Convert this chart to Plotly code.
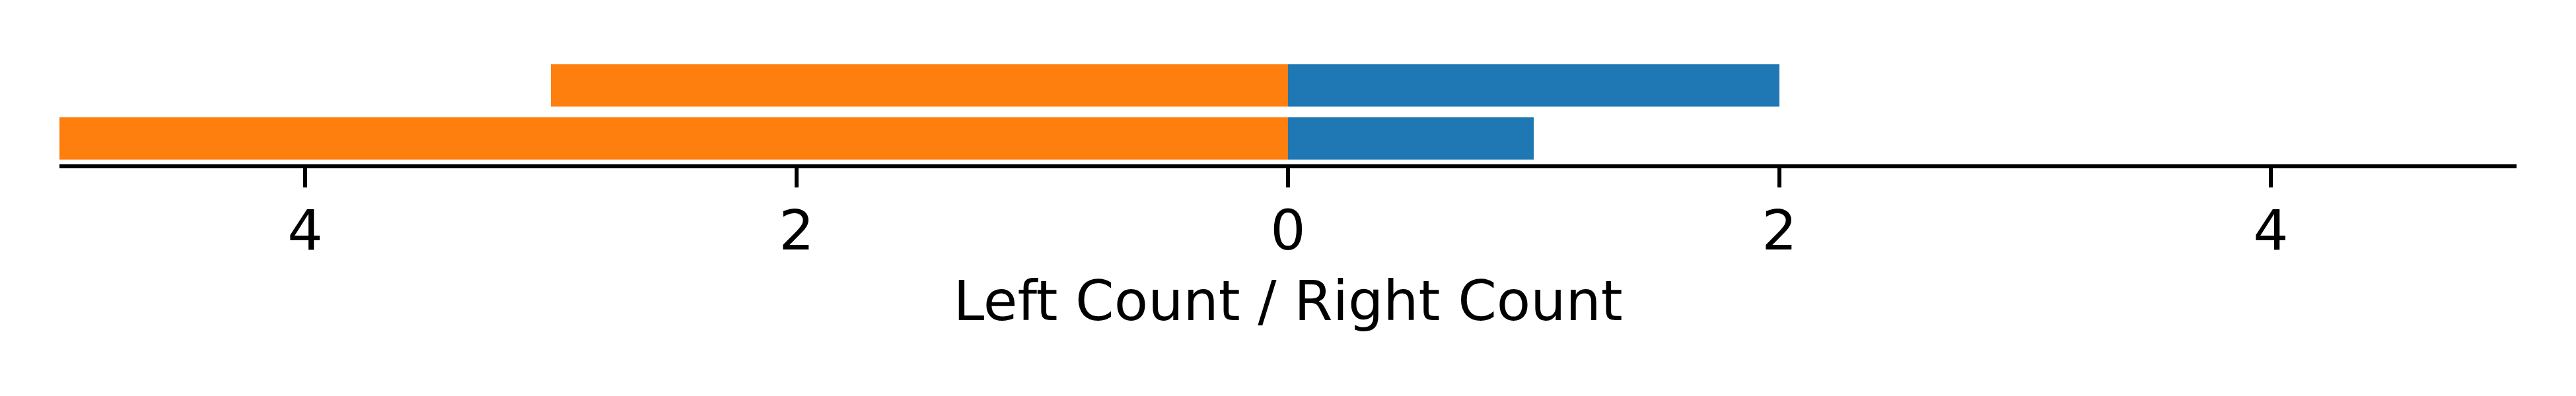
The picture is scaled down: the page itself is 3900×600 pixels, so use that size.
import plotly.graph_objects as go

categories = [0, 1]
left_counts = [5, 3]
right_counts = [1, 2]
tick_values = [-4, -2, 0, 2, 4]
tick_labels = ["4", "2", "0", "2", "4"]
x_title = "Left Count / Right Count"

FONT = "DejaVu Sans"

fig = go.Figure()
fig.add_trace(go.Bar(
    y=categories, x=[-v for v in left_counts], orientation="h",
    width=0.8, marker=dict(color="#ff7f0e", line=dict(width=0)),
    name="Left", showlegend=False,
))
fig.add_trace(go.Bar(
    y=categories, x=right_counts, orientation="h",
    width=0.8, marker=dict(color="#1f77b4", line=dict(width=0)),
    name="Right", showlegend=False,
))

fig.update_layout(
    template="none",
    width=3900, height=600,
    barmode="relative",
    plot_bgcolor="white", paper_bgcolor="white",
    margin=dict(l=90, r=90, t=90, b=351, pad=0, autoexpand=False),
    font=dict(family=FONT, color="black", size=84),
    xaxis=dict(
        range=[-5, 5], autorange=False, automargin=False,
        tickmode="array", tickvals=tick_values, ticktext=tick_labels,
        showline=True, linewidth=6, linecolor="black",
        ticks="outside", ticklen=29, tickwidth=6, tickcolor="black",
        ticklabelstandoff=-7,
        tickfont=dict(family=FONT, size=84, color="black"),
        showgrid=False, zeroline=False,
        title=dict(text=x_title, font=dict(family=FONT, size=84, color="black"), standoff=31),
    ),
    yaxis=dict(
        range=[-0.49, 1.49], autorange=False, automargin=False,
        showline=False, showticklabels=False, ticks="",
        showgrid=False, zeroline=False,
    ),
)

fig.write_html("out.html", config={"displayModeBar": False},
               post_script="document.body.style.margin='0';")
